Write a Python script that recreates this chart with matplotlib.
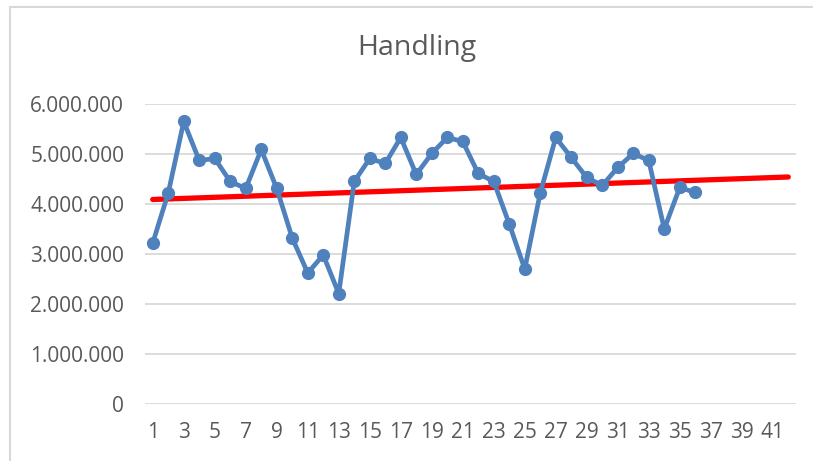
import numpy as np
import matplotlib
matplotlib.use('Agg')
import matplotlib.pyplot as plt
from matplotlib.ticker import FuncFormatter, MultipleLocator
from matplotlib.patches import Rectangle

# values, in millions
periods = list(range(1, 37))
handling = [3.22, 4.22, 5.65, 4.87, 4.91, 4.45, 4.31, 5.09, 4.31, 3.32,
            2.62, 2.98, 2.21, 4.45, 4.91, 4.81, 5.33, 4.59, 5.01, 5.33,
            5.25, 4.61, 4.45, 3.60, 2.70, 4.22, 5.33, 4.93, 4.53, 4.37,
            4.73, 5.01, 4.87, 3.50, 4.33, 4.23]
# linear trend line as drawn (start / end value, millions)
trend_x = [1, 42]
trend_y = [4.09, 4.54]
n_cat = 42
tick_labels = [str(i) for i in range(1, n_cat + 1, 2)]

grey = '#595959'
plt.rcParams['font.family'] = ['Open Sans', 'DejaVu Sans']

fig = plt.figure(figsize=(8.13, 4.61), dpi=100)
W, H = 813, 461
ax = fig.add_axes([145 / W, 1 - 404 / H, (796 - 145) / W, (404 - 104) / H])

x = np.array(periods)
y = np.array(handling) * 1e6

ax.plot(trend_x, np.array(trend_y) * 1e6, color='#ff0000', lw=3.8,
        solid_capstyle='round', zorder=2)
ax.plot(x, y, color='#4f81bd', lw=3.4, marker='o', ms=8.5, zorder=3)

ax.set_xlim(0.5, n_cat + 0.5)
ax.set_ylim(0, 6e6)
ax.yaxis.set_major_locator(MultipleLocator(1e6))
ax.yaxis.set_major_formatter(FuncFormatter(lambda v, p: f'{int(v):,}'.replace(',', '.')))
ax.set_xticks(range(1, n_cat + 1, 2))
ax.set_xticklabels(tick_labels)
ax.grid(axis='y', color='#d9d9d9', lw=1.3)
ax.set_axisbelow(True)
for s in ax.spines.values():
    s.set_visible(False)
ax.tick_params(length=0, labelsize=15, colors=grey)
ax.tick_params(axis='y', pad=15)
ax.tick_params(axis='x', pad=13)

fig.text(417 / W, 1 - 48 / H, 'Handling', ha='center', va='center', fontsize=20.5, color=grey)

# chart frame, cut off at right and bottom like the screenshot
fig.patches.append(Rectangle((10 / W, -0.1), 1.2, 1 - 7 / H + 0.1, transform=fig.transFigure,
                             fill=False, ec='#d9d9d9', lw=1.5))

fig.savefig('out.png', dpi=100)
